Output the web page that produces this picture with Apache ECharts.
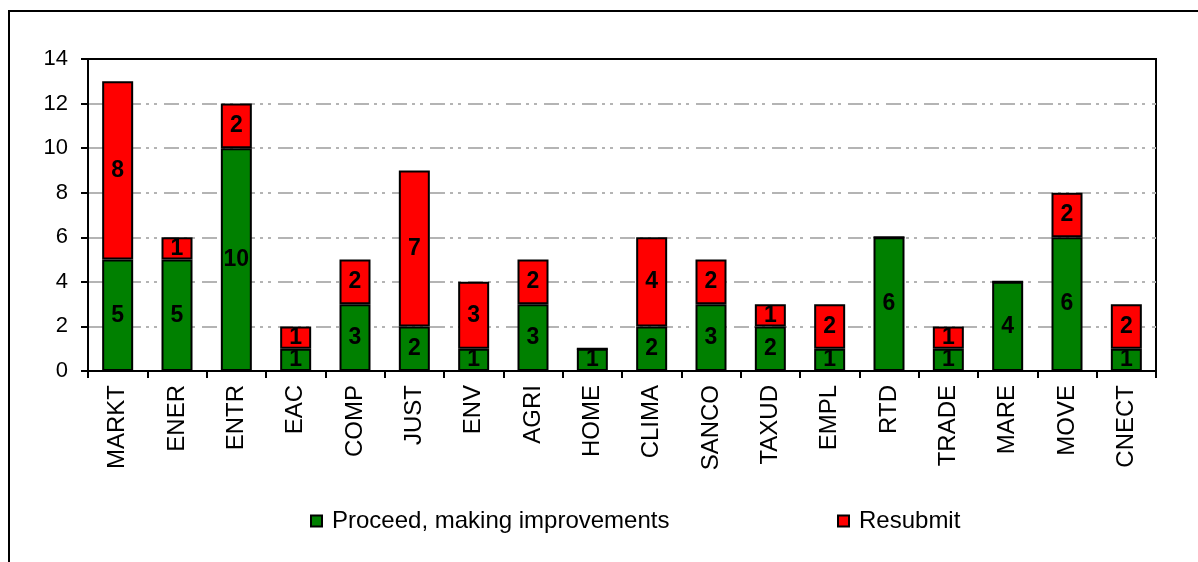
<!DOCTYPE html>
<html>
<head>
<meta charset="utf-8">
<script src="https://cdn.jsdelivr.net/npm/echarts@6/dist/echarts.min.js"></script>
<style>
  html, body { margin: 0; padding: 0; background: #fff; }
  #frame { position: absolute; left: 8px; top: 10px; width: 1200px; height: 560px;
           border-top: 2px solid #000; border-left: 2px solid #000; }
  #chart { position: absolute; left: 0; top: 0; width: 1198px; height: 562px; }
</style>
</head>
<body>
<div id="frame"></div>
<div id="chart"></div>
<script>
// categories and values
var categories = ['MARKT', 'ENER', 'ENTR', 'EAC', 'COMP', 'JUST', 'ENV', 'AGRI', 'HOME',
                  'CLIMA', 'SANCO', 'TAXUD', 'EMPL', 'RTD', 'TRADE', 'MARE', 'MOVE', 'CNECT'];
var proceed  = [5, 5, 10, 1, 3, 2, 1, 3, 1, 2, 3, 2, 1, 6, 1, 4, 6, 1];
var resubmit = [8, 1, 2, 1, 2, 7, 3, 2, 0, 4, 2, 1, 2, 0, 1, 0, 2, 2];
var yTicks = [0, 2, 4, 6, 8, 10, 12, 14];

var font = 'Liberation Sans, Arial, sans-serif';
var myChart = echarts.init(document.getElementById('chart'));

// gray dash-dot grid lines, the top one (at max) left out so the black border stays solid
var gridColors = yTicks.map(function (v, i) {
    return i === yTicks.length - 1 ? 'rgba(0,0,0,0)' : '#b4b4b4';
});

function segLabel() {
    return {
        show: true,
        position: 'inside',
        color: '#000',
        fontFamily: font,
        fontWeight: 'bold',
        fontSize: 23,
        formatter: function (p) { return p.value ? p.value : ''; }
    };
}

function legendAt(name, left) {
    return {
        data: [name],
        left: left, top: 504,
        icon: 'rect',
        itemWidth: 11, itemHeight: 11,
        textStyle: { fontFamily: font, fontSize: 24, color: '#000', padding: [0, 0, 0, 5] }
    };
}

var option = {
    animation: false,
    backgroundColor: 'transparent',
    grid: {
        left: 88, right: 42, top: 59, bottom: 191,
        show: true, borderColor: '#000', borderWidth: 2
    },
    legend: [
        legendAt('Proceed, making improvements', 305),
        legendAt('Resubmit', 832)
    ],
    xAxis: {
        type: 'category',
        data: categories,
        axisLine: { lineStyle: { color: '#000', width: 2 } },
        axisTick: { show: true, length: 7, lineStyle: { color: '#000', width: 2 } },
        axisLabel: {
            rotate: 90, margin: 14, color: '#000',
            fontFamily: font, fontSize: 24
        }
    },
    yAxis: {
        type: 'value',
        min: yTicks[0], max: yTicks[yTicks.length - 1], interval: 2,
        axisLine: { show: true, lineStyle: { color: '#000', width: 2 } },
        axisTick: { show: true, length: 7, lineStyle: { color: '#000', width: 2 } },
        axisLabel: { color: '#000', fontFamily: font, fontSize: 22, margin: 20 },
        splitLine: {
            lineStyle: { color: gridColors, width: 2, type: [15, 5, 3, 5, 3, 7] }
        }
    },
    series: [{
        name: 'Proceed, making improvements',
        type: 'bar',
        stack: 'total',
        barWidth: 31,
        data: proceed,
        itemStyle: { color: '#008000', borderColor: '#000', borderWidth: 2 },
        label: segLabel()
    }, {
        name: 'Resubmit',
        type: 'bar',
        stack: 'total',
        barWidth: 31,
        data: resubmit,
        itemStyle: { color: '#ff0000', borderColor: '#000', borderWidth: 2 },
        label: segLabel()
    }]
};

myChart.setOption(option);
</script>
</body>
</html>
